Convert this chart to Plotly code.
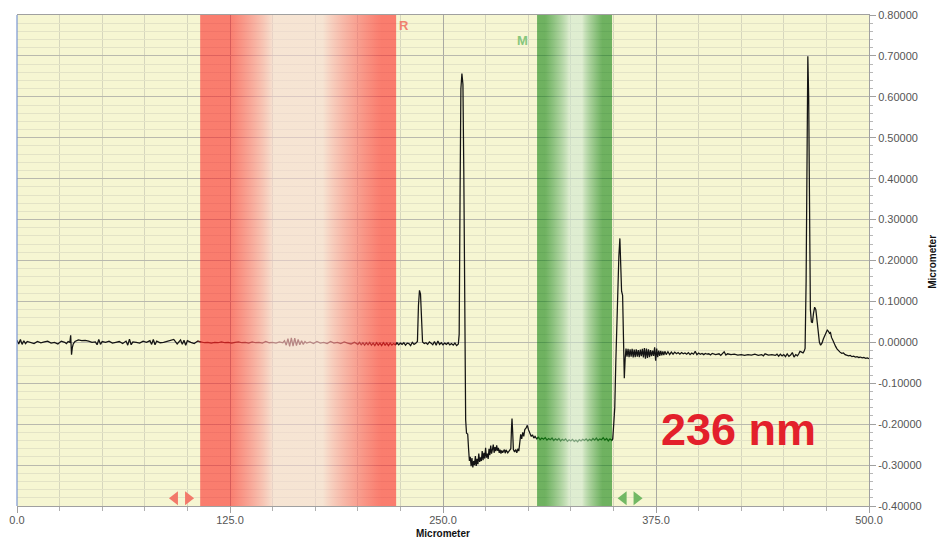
import plotly.graph_objects as go

# ---------------- data ----------------
seg_left = [(0,0.005),(1,-0.004),(2,0.007),(3,-0.005),(4,0.004),(5,-0.003),(6,0.002),
            (8,0.000),(10,-0.003),(12,0.002),(14,-0.001),(16,0.001),(18,0.003),(20,-0.002),
            (22,0.000),(24,-0.004),(26,0.003),(28,0.000),(29,-0.003),(30,0.002),(31,0.000),
            (31.5,0.017),(32,-0.030),(32.5,-0.012),(33,-0.004),(34,0.002),(35,0.005),(36,0.006),
            (38,0.004),(40,0.005),(42,0.003),(44,0.000),(46,0.001),(47,-0.006),(48,0.007),
            (49,-0.005),(50,0.002),(52,0.000),(54,0.003),(56,-0.002),(58,0.000),(60,0.002),
            (62,-0.003),(64,0.003),(65,-0.007),(66,0.008),(67,-0.006),(68,0.001),(70,0.000),
            (72,-0.002),(74,0.003),(76,0.000),(78,0.004),(79,-0.005),(80,0.007),(81,-0.006),
            (82,0.003),(84,-0.001),(86,0.000),(88,0.002),(90,0.005),(92,0.007),(94,-0.004),
            (96,0.006),(97,-0.005),(98,0.005),(99,-0.007),(100,0.004),(102,0.000),(104,-0.003),
            (106,0.003)]
seg_red = [(108,0.001),(110,-0.001),(112,0.000),(114,-0.002),(116,0.000),(118,-0.001),
           (120,0.001),(122,-0.001),(124,0.000),(126,-0.002),(128,0.000),(130,0.001),
           (132,-0.001),(134,0.000),(136,-0.002),(138,0.001),(140,-0.001),(142,0.000),
           (144,-0.002),(146,0.002),(148,-0.001),(150,0.000),(152,-0.002),(154,0.001),
           (156,-0.001),(157,0.004),(158,-0.007),(159,0.009),(160,-0.010),(161,0.011),
           (162,-0.009),(163,0.010),(164,-0.008),(165,0.007),(166,-0.006),(167,0.004),
           (168,-0.005),(169,0.002),(170,-0.002),(172,0.001),(174,-0.003),(176,0.002),
           (178,-0.002),(180,0.000),(182,-0.003),(184,0.002),(186,-0.002),(188,0.000),
           (190,-0.003),(192,0.001),(194,-0.002),(196,-0.004),(198,0.000),(200,-0.005),
           (201,0.000),(202,-0.006),(203,-0.001),(204,-0.007),(205,-0.001),(206,-0.006),
           (207,0.000),(208,-0.007),(209,-0.002),(210,-0.008),(211,-0.001),(212,-0.007),
           (213,-0.002),(214,-0.008),(215,-0.001),(216,-0.007),(217,-0.002),(218,-0.008),
           (219,-0.002),(220,-0.007),(221,-0.003),(222,-0.006)]
seg_mid = [(223,-0.001),(224,-0.006),(225,-0.002),(226,-0.005),(227,-0.001),(228,-0.007),
           (229,-0.002),(230,-0.003),(231,-0.008),(232,0.000),(233,-0.005),(234,-0.002),
           (235,0.002),(235.6,0.09),(236.2,0.127),(236.8,0.118),(237.4,0.03),(238,0.001),
           (239,-0.003),(240,-0.001),(241,-0.005),(242,0.001),(243,-0.002),(244,-0.006),
           (245,0.002),(246,-0.007),(247,0.003),(248,-0.005),(249,-0.001),(250,-0.006),
           (251,-0.002),(252,-0.005),(253,-0.001),(254,-0.006),(255,-0.003),(256,-0.007),
           (257,-0.002),(258,-0.008),(259,-0.004)]
seg_peak1 = [(259.5,0.02),(260,0.35),(260.5,0.62),(261.1,0.657),(261.7,0.63),(262.2,0.42),
             (262.7,0.05),(263.3,-0.19),(263.8,-0.222),(264.5,-0.224),(265.0,-0.26),(265.5,-0.29)]
seg_low = [(266,-0.28),(266.5,-0.303),(267,-0.283),(267.5,-0.306),(268,-0.29),(268.5,-0.3),
           (269,-0.278),(269.5,-0.302),(270,-0.285),(270.5,-0.298),(271,-0.272),(271.5,-0.292),
           (272,-0.281),(272.5,-0.29),(273,-0.266),(273.5,-0.288),(274,-0.27),(274.5,-0.284),
           (275,-0.258),(275.5,-0.282),(276,-0.272),(276.5,-0.285),(277,-0.26),(277.5,-0.276),
           (278,-0.252),(278.5,-0.272),(279,-0.262),(279.5,-0.25),(280,-0.27),(280.5,-0.256),
           (281,-0.266),(281.5,-0.252),(282,-0.265),(282.5,-0.258),(283,-0.27),(283.5,-0.262),
           (284,-0.272),(284.5,-0.264),(285,-0.27),(286,-0.262),(286.5,-0.271),(287,-0.263),
           (288,-0.27),(289,-0.264),(289.8,-0.26),(290.2,-0.21),(290.5,-0.186),(290.9,-0.22),
           (291.3,-0.262),(292,-0.268),(292.7,-0.262),(293.3,-0.27),(294,-0.26),(294.5,-0.266),
           (295,-0.235),(295.6,-0.225),(296.2,-0.236),(296.8,-0.22),(297.4,-0.23),(298,-0.213),
           (298.7,-0.21),(299.5,-0.203),(300.2,-0.214),(301,-0.222),(301.8,-0.23),(302.5,-0.226),
           (303.3,-0.234),(304,-0.23)]
seg_green = [(305,-0.236),(306,-0.232),(307,-0.238),(308,-0.234),(309,-0.237),(310,-0.233),
             (311,-0.239),(312,-0.235),(313,-0.238),(314,-0.234),(315,-0.24),(316,-0.236),
             (317,-0.239),(318,-0.235),(319,-0.241),(320,-0.237),(321,-0.24),(322,-0.236),
             (323,-0.242),(324,-0.238),(325,-0.241),(326,-0.237),(327,-0.242),(328,-0.239),
             (329,-0.243),(330,-0.238),(331,-0.241),(332,-0.237),(333,-0.24),(334,-0.236),
             (335,-0.241),(336,-0.237),(337,-0.24),(338,-0.235),(339,-0.239),(340,-0.234),
             (341,-0.24),(342,-0.236),(343,-0.238),(344,-0.233),(345,-0.239),(346,-0.235),
             (347,-0.241),(348,-0.236),(349,-0.24),(349.6,-0.236)]
seg_peak2 = [(350.2,-0.2),(350.8,-0.16),(351.4,-0.05),(352.0,0.05),(352.6,0.14),(353.2,0.21),
             (353.8,0.254),(354.4,0.2),(354.8,0.125),(355.4,0.115),(355.9,0.02),(356.4,-0.088),
             (356.9,-0.04),(357.4,-0.015)]
seg_right = [(358,-0.035),(358.6,-0.016),(359.2,-0.036),(359.8,-0.017),(360.4,-0.035),(361,-0.016),
             (361.6,-0.037),(362.2,-0.018),(362.8,-0.036),(363.4,-0.017),(364,-0.035),(364.6,-0.019),
             (365.2,-0.036),(365.8,-0.018),(366.4,-0.034),(367,-0.016),(367.6,-0.037),(368.2,-0.014),
             (368.8,-0.04),(369.4,-0.015),(370,-0.038),(370.6,-0.017),(371.2,-0.036),(371.8,-0.019),
             (372.4,-0.034),(373,-0.02),(373.6,-0.033),(374.2,-0.012),(374.8,-0.045),(375.4,-0.015),
             (376,-0.036),(376.6,-0.02),(377.2,-0.033),(377.8,-0.021),(378.4,-0.032),(379,-0.022),
             (379.6,-0.031),(380.2,-0.022),(381,-0.03),(382,-0.023),(383,-0.03),(384,-0.024),
             (385,-0.029),(386,-0.024),(387,-0.028),(388,-0.025),(389,-0.029),(390,-0.025),
             (391,-0.028),(392,-0.026),(393,-0.029),(394,-0.025),(395,-0.03),(396,-0.026),
             (397,-0.029),(398,-0.022),(399,-0.03),(400,-0.026),(401,-0.029),(402,-0.027),
             (403,-0.03),(404,-0.027),(405,-0.029),(406,-0.028),(407,-0.031),(408,-0.027),
             (410,-0.03),(412,-0.028),(413,-0.032),(414,-0.027),(415,-0.023),(416,-0.031),
             (417,-0.028),(419,-0.03),(421,-0.029),(423,-0.031),(425,-0.03),(427,-0.032),
             (429,-0.03),(431,-0.031),(433,-0.029),(435,-0.032),(437,-0.03),(438,-0.033),
             (439,-0.028),(441,-0.031),(443,-0.03),(445,-0.032),(446,-0.029),(447,-0.034),
             (448,-0.029),(449,-0.033),(450,-0.03),(451,-0.035),(452,-0.028),(453,-0.034),
             (454,-0.031),(455,-0.025),(456,-0.036),(457,-0.03),(458,-0.033),(458.8,-0.028),
             (459.5,-0.022),(460.5,-0.024),(461.3,-0.026),(461.9,-0.022)]
seg_peak3 = [(462.5,-0.015),(463.1,0.15),(463.6,0.45),(464.1,0.699),(464.6,0.6),(465.1,0.3),
             (465.6,0.08),(466.2,0.05),(466.8,0.048),(467.4,0.07),(468.1,0.086),(468.8,0.08),
             (469.5,0.055),(470.2,0.02),(470.9,0.0),(471.6,-0.007),(472.4,-0.002),(473.2,0.008),
             (474,0.016),(474.8,0.025),(475.5,0.03),(476.2,0.027),(476.8,0.022),(477.4,0.024),
             (478,0.012),(478.8,0.005),(479.6,-0.004),(480.4,-0.01),(481.2,-0.016),(482,-0.02),
             (483,-0.024),(484,-0.027),(485,-0.026),(486,-0.03),(487,-0.031),(488,-0.033),
             (489,-0.032),(490,-0.035),(491,-0.034),(492,-0.036),(493,-0.035),(494,-0.037),
             (495,-0.036),(496,-0.038),(497,-0.037),(498,-0.039),(499,-0.038),(500,-0.04)]

R_BAND = [107.5, 222.5]       # reference region (µm)
M_BAND = [305.2, 349.2]       # measurement region (µm)
R_ARROWS_X = [92.7, 100.4]
M_ARROWS_X = [356.0, 363.6]
ARROW_Y = -0.381

X_TICKS = [0, 125, 250, 375, 500]
X_TICK_TEXT = ["0.0", "125.0", "250.0", "375.0", "500.0"]
Y_TICKS = [-0.4, -0.3, -0.2, -0.1, 0.0, 0.1, 0.2, 0.3, 0.4, 0.5, 0.6, 0.7, 0.8]
Y_TICK_TEXT = ["-0.40000", "-0.30000", "-0.20000", "-0.10000", "0.00000", "0.10000",
               "0.20000", "0.30000", "0.40000", "0.50000", "0.60000", "0.70000", "0.80000"]
STEP_LABEL = "236 nm"

# ---------------- figure ----------------
profile = (seg_left + seg_red + seg_mid + seg_peak1 + seg_low + seg_green +
           seg_peak2 + seg_right + seg_peak3)
px_all = [p[0] for p in profile]
py_all = [p[1] for p in profile]

YMIN, YMAX = -0.4, 0.8
BG = "#f6f6d2"

fig = go.Figure()

# line: black outside the bands, tinted inside (band overlays the trace)
pieces = [
    (0, R_BAND[0], "#141414"),
    (R_BAND[0], R_BAND[1], "#6a2622"),
    (R_BAND[1], M_BAND[0], "#141414"),
    (M_BAND[0], M_BAND[1], "#1d4f1a"),
    (M_BAND[1], 500, "#141414"),
]
for lo, hi, col in pieces:
    idx = [k for k, x in enumerate(px_all) if lo <= x <= hi]
    a = max(idx[0] - 1, 0)
    b = min(idx[-1] + 1, len(px_all) - 1)
    fig.add_trace(go.Scatter(x=px_all[a:b + 1], y=py_all[a:b + 1], mode="lines",
                             line=dict(color=col, width=1.25),
                             hoverinfo="skip", showlegend=False))


def weight(u, a, b, c, d):
    if u <= a or u >= d:
        return 1.0
    if b <= u <= c:
        return 0.0
    if u < b:
        return ((b - u) / (b - a)) ** 0.8
    return ((u - c) / (d - c)) ** 0.8


def mix(c1, c2, w):
    return "rgb(%d,%d,%d)" % tuple(round(c1[k] * w + c2[k] * (1 - w)) for k in range(3))


def band(rng, edge, center, prof):
    stops = []
    n = 40
    for i in range(n + 1):
        u = i / n
        stops.append([u, mix(edge, center, weight(u, *prof))])
    x0, x1 = rng
    fig.add_trace(go.Scatter(
        x=[x0, x1, x1, x0, x0], y=[YMIN, YMIN, YMAX, YMAX, YMIN],
        mode="lines", line=dict(width=0), fill="toself",
        fillgradient=dict(type="horizontal", colorscale=stops, start=x0, stop=x1),
        opacity=0.55, hoverinfo="skip", showlegend=False))

band(R_BAND, (253, 26, 28), (246, 214, 212), (0.15, 0.37, 0.63, 0.92))
band(M_BAND, (0, 122, 3), (204, 230, 208), (0.11, 0.43, 0.6, 0.87))

# region arrows
for xs, col in ((R_ARROWS_X, "#f2796a"), (M_ARROWS_X, "#72b864")):
    fig.add_trace(go.Scatter(
        x=xs, y=[ARROW_Y, ARROW_Y], mode="markers",
        marker=dict(symbol=["triangle-left", "triangle-right"], size=12, color=col,
                    line=dict(width=0)),
        hoverinfo="skip", showlegend=False))

fig.update_layout(
    width=938, height=538,
    margin=dict(l=17, r=69, t=15, b=32, autoexpand=False),
    paper_bgcolor="white", plot_bgcolor=BG,
    font=dict(family="Liberation Sans, Arial, sans-serif", size=11, color="#555555"),
    showlegend=False,
    xaxis=dict(range=[0, 500], tickmode="array", tickvals=X_TICKS, ticktext=X_TICK_TEXT,
               automargin=False, ticklabelstandoff=-2,
               showgrid=True, gridcolor="#a9a9a2", gridwidth=1, zeroline=False,
               ticks="outside", ticklen=6, tickcolor="#a0a0a0",
               showline=True, linecolor="#a0a0a0", linewidth=1, mirror=True,
               tickfont=dict(size=11, color="#555555"),
               minor=dict(dtick=25, showgrid=True, gridcolor="#d6d6bd", gridwidth=1,
                          ticks="outside", ticklen=4, tickcolor="#b0b0b0")),
    yaxis=dict(range=[YMIN, YMAX], side="right", tickmode="array", tickvals=Y_TICKS,
               automargin=False,
               ticktext=Y_TICK_TEXT, showgrid=True, gridcolor="#b9b9ae", gridwidth=1,
               zeroline=False, ticks="outside", ticklen=6, tickcolor="#a0a0a0",
               showline=True, linecolor="#a0a0a0", linewidth=1,
               tickfont=dict(size=11, color="#555555"),
               minor=dict(dtick=0.02, showgrid=True, gridcolor="#e3e3c6", gridwidth=1,
                          ticks="outside", ticklen=3, tickcolor="#b8b8b8")),
)

fig.add_shape(type="line", xref="paper", yref="paper", x0=0, x1=0, y0=0, y1=1,
              line=dict(color="#7a96d2", width=1.2))

fig.add_annotation(x=227.1, y=0.775, text="<b>R</b>", showarrow=False,
                   font=dict(size=13, color="#f0826f"), xanchor="center", yanchor="middle")
fig.add_annotation(x=296.4, y=0.738, text="<b>M</b>", showarrow=False,
                   font=dict(size=13, color="#86c67c"), xanchor="center", yanchor="middle")
fig.add_annotation(x=423.7, y=-0.213, text="<b>%s</b>" % STEP_LABEL, showarrow=False,
                   font=dict(size=45, color="#e3202b", family="Liberation Sans, Arial"),
                   xanchor="center", yanchor="middle")
fig.add_annotation(xref="paper", yref="paper", x=0.5, y=-0.056, text="<b>Micrometer</b>",
                   showarrow=False, font=dict(size=10, color="#111111"),
                   xanchor="center", yanchor="middle")
fig.add_annotation(xref="paper", yref="paper", x=1.075, y=0.497, text="<b>Micrometer</b>",
                   showarrow=False, textangle=-90, font=dict(size=10, color="#111111"),
                   xanchor="center", yanchor="middle")

fig.write_html("out.html", config={"displayModeBar": False},
               post_script="document.body.style.margin='0';document.body.style.padding='0';")
